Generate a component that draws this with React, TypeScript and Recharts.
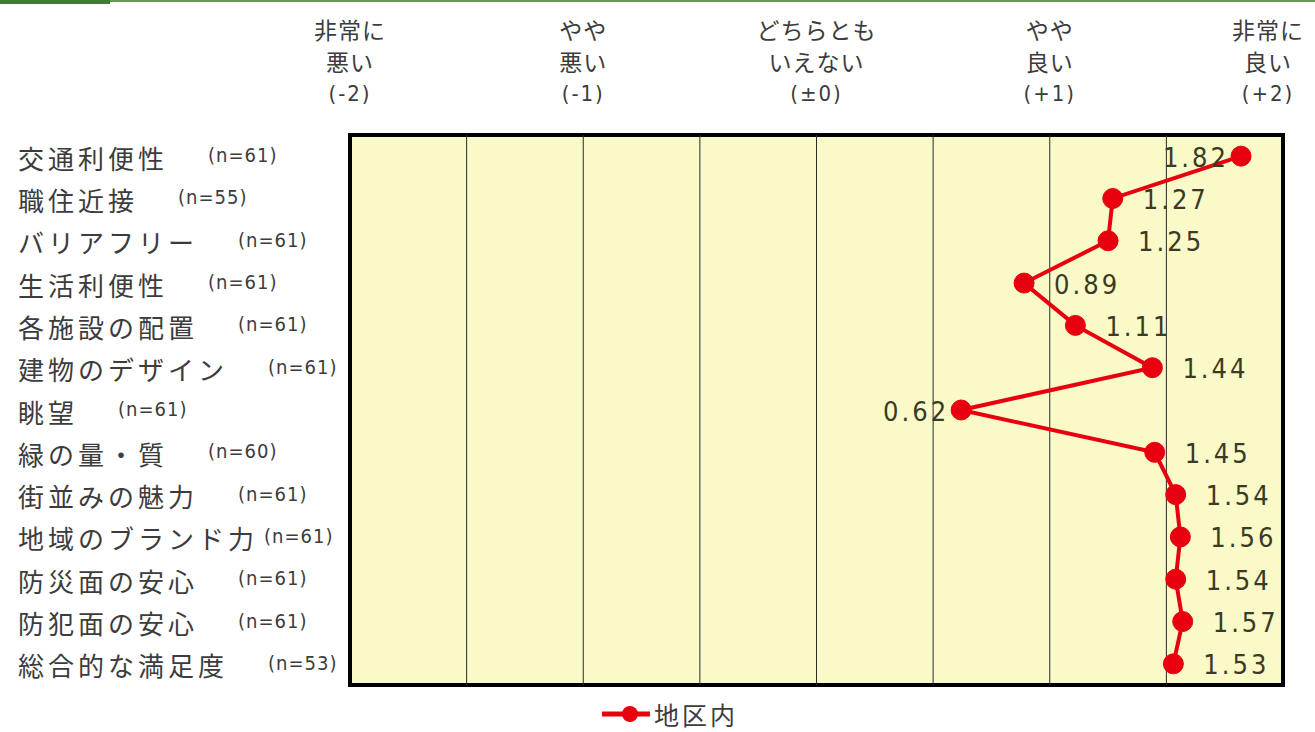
import React from "react";
import {
    LineChart,
    Line,
    XAxis,
    YAxis,
    CartesianGrid,
    ReferenceLine,
    ReferenceArea,
    LabelList,
    Legend,
} from "recharts";

const categories = [
    "交通利便性",
    "職住近接",
    "バリアフリー",
    "生活利便性",
    "各施設の配置",
    "建物のデザイン",
    "眺望",
    "緑の量・質",
    "街並みの魅力",
    "地域のブランド力",
    "防災面の安心",
    "防犯面の安心",
    "総合的な満足度",
];
const nCounts = [61, 55, 61, 61, 61, 61, 61, 60, 61, 61, 61, 61, 53];
const scores = [1.82, 1.27, 1.25, 0.89, 1.11, 1.44, 0.62, 1.45, 1.54, 1.56, 1.54, 1.57, 1.53];

const scaleTicks = [-2, -1, 0, 1, 2];
const headerTop = ["非常に", "やや", "どちらとも", "やや", "非常に"];
const headerMid = ["悪い", "悪い", "いえない", "良い", "良い"];
const headerBottom = ["(-2)", "(-1)", "(±0)", "(+1)", "(+2)"];
const gridValues = [-1.5, -1, -0.5, 0, 0.5, 1, 1.5];

const seriesName = "地区内";

const RED = "#E8000F";
const TEXT = "#3c3c3c";
const JP = "'Noto Sans CJK JP', 'Noto Sans', sans-serif";
const NUM = "'DejaVu Sans Condensed', 'Liberation Sans Narrow', sans-serif";

const data = categories.map((name, i) => ({ name, n: nCounts[i], score: scores[i] }));

// header above the plot: three stacked lines per scale point
// eslint-disable-next-line @typescript-eslint/no-explicit-any
function HeaderTick({ x, index }: any) {
    const lines = [headerTop[index], headerMid[index], headerBottom[index]];
    const cx = Math.min(x, 1268);
    return (
        <g>
            {lines.map((t, k) => (
                <text
                    key={k}
                    x={cx}
                    y={29 + k * 32}
                    textAnchor="middle"
                    dominantBaseline="central"
                    fontSize={k === 2 ? 22 : 23}
                    fontFamily={k === 2 ? NUM : JP}
                    fill={TEXT}
                    letterSpacing={k === 2 ? 2 : 1}
                >
                    {t}
                </text>
            ))}
        </g>
    );
}

// eslint-disable-next-line @typescript-eslint/no-explicit-any
function CategoryTick({ y, payload, index }: any) {
    const name: string = payload.value;
    const nameEnd = 18 + name.length * 30;
    const nx = nameEnd + 40 > 270 ? nameEnd + 6 : nameEnd + 40;
    return (
        <g>
            <text
                x={18}
                y={y + 1}
                dominantBaseline="central"
                fontSize={26}
                letterSpacing={4}
                fontFamily={JP}
                fill={TEXT}
            >
                {name}
            </text>
            <text
                x={nx}
                y={y - 1}
                dominantBaseline="central"
                fontSize={20}
                letterSpacing={1}
                fontFamily={NUM}
                fill={TEXT}
            >
                {`(n=${nCounts[index]})`}
            </text>
        </g>
    );
}

// eslint-disable-next-line @typescript-eslint/no-explicit-any
function ValueLabel({ x, y, value }: any) {
    const lo = Math.min(...scores);
    const hi = Math.max(...scores);
    const left = value === lo || value === hi;
    return (
        <text
            x={left ? x - 12 : x + 30}
            y={y + 1}
            textAnchor={left ? "end" : "start"}
            dominantBaseline="central"
            fontSize={27}
            letterSpacing={3}
            fontFamily={NUM}
            fill="#3a3a26"
        >
            {value.toFixed(2)}
        </text>
    );
}

function LegendContent() {
    return (
        <div style={{ display: "flex", alignItems: "center", paddingTop: 11 }}>
            <svg width={56} height={28}>
                <line x1={4} y1={14} x2={52} y2={14} stroke={RED} strokeWidth={5} />
                <circle cx={32} cy={14} r={8} fill={RED} />
            </svg>
            <span style={{ fontFamily: JP, fontSize: 25, color: TEXT, letterSpacing: 3, whiteSpace: "nowrap" }}>
                {seriesName}
            </span>
        </div>
    );
}

export default function App() {
    return (
        <div style={{ position: "absolute", left: 0, top: 0, width: 1315, height: 732, background: "#fff" }}>
            <div style={{ position: "absolute", left: 0, top: 0, width: 1315, height: 2, background: "#6a9a50" }} />
            <div style={{ position: "absolute", left: 0, top: 0, width: 110, height: 4, background: "#3f7d32" }} />
            <LineChart
                width={1315}
                height={732}
                data={data}
                layout="vertical"
                margin={{ top: 0, right: 32, left: 10, bottom: 0 }}
            >
                <CartesianGrid fill="#FAF9C8" fillOpacity={1} horizontal={false} vertical={false} />
                <XAxis
                    type="number"
                    orientation="top"
                    domain={[-2, 2]}
                    ticks={scaleTicks}
                    height={135}
                    axisLine={false}
                    tickLine={false}
                    tick={<HeaderTick />}
                    interval={0}
                />
                <YAxis
                    type="category"
                    dataKey="name"
                    scale="band"
                    width={340}
                    axisLine={false}
                    tickLine={false}
                    tick={<CategoryTick />}
                    interval={0}
                />
                {gridValues.map((v) => (
                    <ReferenceLine key={v} x={v} stroke="#2a2a2a" strokeWidth={1} />
                ))}
                <ReferenceArea x1={-2} x2={2} fill="none" fillOpacity={0} stroke="#000" strokeWidth={4} />
                <Legend
                    verticalAlign="bottom"
                    height={47}
                    content={<LegendContent />}
                    wrapperStyle={{ left: 598, width: 300 }}
                />
                <Line
                    dataKey="score"
                    name={seriesName}
                    type="linear"
                    stroke={RED}
                    strokeWidth={4}
                    dot={{ r: 10, fill: RED, stroke: RED, strokeWidth: 1 }}
                    activeDot={false}
                    isAnimationActive={false}
                >
                    <LabelList dataKey="score" content={<ValueLabel />} />
                </Line>
            </LineChart>
        </div>
    );
}
